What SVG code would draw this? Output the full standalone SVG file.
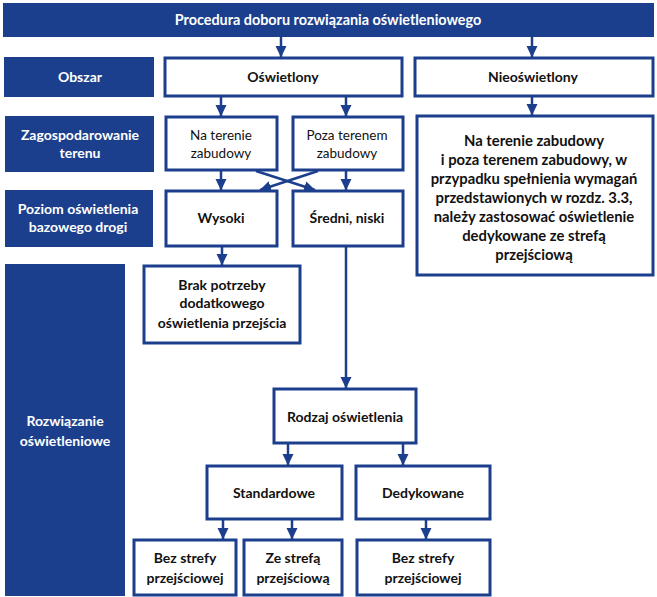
<svg xmlns="http://www.w3.org/2000/svg" width="657" height="597" viewBox="0 0 657 597">
<style>
.lab{fill:#1c3f8d}
.box{fill:#fff;stroke:#1c3f8d;stroke-width:3}
.wt{font-family:Lato,"Open Sans","Liberation Sans",sans-serif;font-weight:bold;font-size:14px;fill:#fff;text-anchor:middle}
.bt{font-family:Lato,"Open Sans","Liberation Sans",sans-serif;font-weight:bold;font-size:14px;fill:#111;text-anchor:middle}
.big{font-size:14.8px}
.rt{font-family:Lato,"Open Sans","Liberation Sans",sans-serif;font-size:13.5px;fill:#111;text-anchor:middle}
.ln{stroke:#1c3f8d;stroke-width:2.5;fill:none;marker-end:url(#ah)}
</style>
<defs>
<marker id="ah" markerUnits="userSpaceOnUse" markerWidth="12" markerHeight="12" viewBox="0 0 12 12" refX="11" refY="6" orient="auto">
<path d="M0,0.5 L11.5,6 L0,11.5 Z" fill="#1c3f8d"/>
</marker>
</defs>
<rect width="657" height="597" fill="#fff"/>
<g id="header"><rect class="lab" x="3" y="3" width="651" height="34"/><text class="wt" x="328" y="25" style="font-size:14.4px">Procedura doboru rozwiązania oświetleniowego</text></g>
<g id="lab-obszar"><rect class="lab" x="4" y="57" width="150" height="40"/><text class="wt" x="80" y="82">Obszar</text></g>
<g id="lab-zagosp"><rect class="lab" x="5" y="116" width="149" height="56"/><text class="wt" x="80" y="140">Zagospodarowanie</text><text class="wt" x="80" y="158">terenu</text></g>
<g id="lab-poziom"><rect class="lab" x="5" y="190" width="148" height="57"/><text class="wt" x="78" y="214">Poziom oświetlenia</text><text class="wt" x="78" y="232">bazowego drogi</text></g>
<g id="lab-rozw"><rect class="lab" x="5" y="264" width="120" height="332"/><text class="wt" x="65" y="426">Rozwiązanie</text><text class="wt" x="65" y="446">oświetleniowe</text></g>
<g id="oswietlony"><rect class="box" x="165" y="58" width="237" height="38"/><text class="bt" x="283" y="82">Oświetlony</text></g>
<g id="nieoswietlony"><rect class="box" x="415" y="58" width="238" height="38"/><text class="bt" x="533" y="82">Nieoświetlony</text></g>
<g id="na-terenie"><rect class="box" x="166" y="117" width="111" height="53"/><text class="rt" x="221" y="140">Na terenie</text><text class="rt" x="221" y="158">zabudowy</text></g>
<g id="poza-terenem"><rect class="box" x="293" y="117" width="110" height="53"/><text class="rt" x="347" y="140">Poza terenem</text><text class="rt" x="347" y="158">zabudowy</text></g>
<g id="wysoki"><rect class="box" x="166" y="191" width="111" height="55"/><text class="bt" x="221" y="223">Wysoki</text></g>
<g id="sredni"><rect class="box" x="293" y="191" width="110" height="55"/><text class="bt" x="347" y="223">Średni, niski</text></g>
<g id="nieoswietlony-opis"><rect class="box" x="417" y="116" width="236" height="159"/>
<text class="bt big" x="534" y="146">Na terenie zabudowy</text>
<text class="bt big" x="534" y="165">i poza terenem zabudowy, w</text>
<text class="bt big" x="534" y="184">przypadku spełnienia wymagań</text>
<text class="bt big" x="534" y="203">przedstawionych w rozdz. 3.3,</text>
<text class="bt big" x="534" y="222">należy zastosować oświetlenie</text>
<text class="bt big" x="534" y="241">dedykowane ze strefą</text>
<text class="bt big" x="534" y="260">przejściową</text></g>
<g id="brak"><rect class="box" x="144" y="266" width="156" height="77"/><text class="bt" x="222" y="290">Brak potrzeby</text><text class="bt" x="222" y="308">dodatkowego</text><text class="bt" x="222" y="328">oświetlenia przejścia</text></g>
<g id="rodzaj"><rect class="box" x="274" y="389" width="142" height="54"/><text class="bt" x="345" y="422">Rodzaj oświetlenia</text></g>
<g id="standardowe"><rect class="box" x="207" y="466" width="135" height="53"/><text class="bt" x="274" y="498">Standardowe</text></g>
<g id="dedykowane"><rect class="box" x="356" y="466" width="134" height="53"/><text class="bt" x="423" y="498">Dedykowane</text></g>
<g id="bez1"><rect class="box" x="134" y="540" width="102" height="55"/><text class="bt" x="185" y="563">Bez strefy</text><text class="bt" x="185" y="583">przejściowej</text></g>
<g id="ze"><rect class="box" x="244" y="540" width="98" height="55"/><text class="bt" x="293" y="563">Ze strefą</text><text class="bt" x="293" y="583">przejściową</text></g>
<g id="bez2"><rect class="box" x="357" y="540" width="133" height="55"/><text class="bt" x="423" y="563">Bez strefy</text><text class="bt" x="423" y="583">przejściowej</text></g>
<g id="connectors">
<line class="ln" x1="281" y1="37" x2="281" y2="57"/>
<line class="ln" x1="532" y1="37" x2="532" y2="57"/>
<line class="ln" x1="221" y1="97" x2="221" y2="116"/>
<line class="ln" x1="346" y1="97" x2="346" y2="116"/>
<line class="ln" x1="532" y1="97" x2="532" y2="115"/>
<line class="ln" x1="221" y1="171" x2="221" y2="190"/>
<line class="ln" x1="346" y1="171" x2="346" y2="190"/>
<line class="ln" x1="256" y1="171" x2="315" y2="190"/>
<line class="ln" x1="318" y1="171" x2="260" y2="190"/>
<line class="ln" x1="222" y1="247" x2="222" y2="265"/>
<line class="ln" x1="346" y1="247" x2="346" y2="388"/>
<line class="ln" x1="288" y1="444" x2="288" y2="465"/>
<line class="ln" x1="403" y1="444" x2="403" y2="465"/>
<line class="ln" x1="223" y1="520" x2="223" y2="539"/>
<line class="ln" x1="292" y1="520" x2="292" y2="539"/>
<line class="ln" x1="426" y1="520" x2="426" y2="539"/>
</g>
</svg>
